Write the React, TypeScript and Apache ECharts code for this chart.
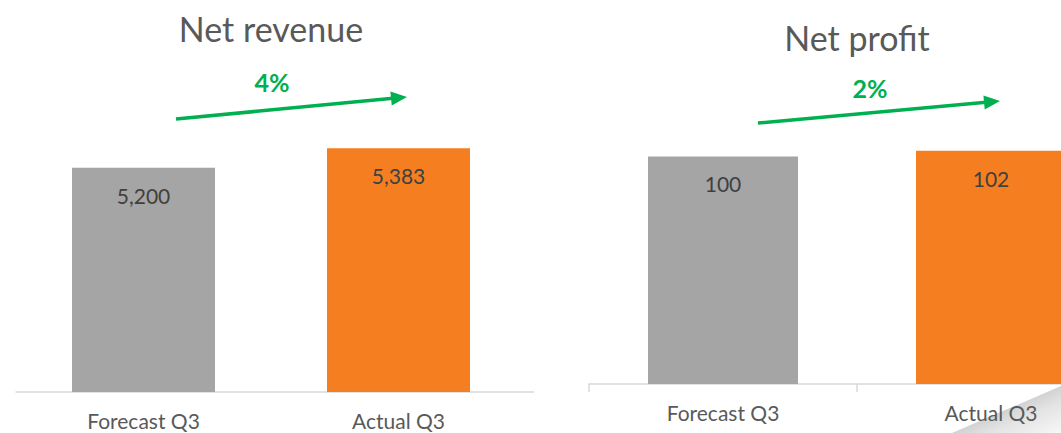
import React, { useEffect, useRef } from "react";
import * as echarts from "echarts";

const categories = ["Forecast Q3", "Actual Q3"];
const revenueValues = [5200, 5383];
const profitValues = [100, 102];
const barColors = ["#a5a5a5", "#f57f20"];
const chartTitles = ["Net revenue", "Net profit"];
const changeLabels = ["4%", "2%"];

const FONT = "Lato, 'Open Sans', sans-serif";
const GREEN = "#00b050";

function arrow(x1: number, y1: number, x2: number, y2: number) {
  const dx = x2 - x1;
  const dy = y2 - y1;
  const len = Math.sqrt(dx * dx + dy * dy);
  const ux = dx / len;
  const uy = dy / len;
  const nx = -uy;
  const ny = ux;
  const hl = 16;
  const hw = 7;
  const bx = x2 - ux * hl;
  const by = y2 - uy * hl;
  return [
    {
      type: "line",
      shape: { x1, y1, x2: bx + ux * 2, y2: by + uy * 2 },
      style: { stroke: GREEN, lineWidth: 3.5 },
    },
    {
      type: "polygon",
      shape: {
        points: [
          [x2, y2],
          [bx + nx * hw, by + ny * hw],
          [bx - nx * hw, by - ny * hw],
        ],
      },
      style: { fill: GREEN },
    },
  ];
}

export default function App() {
  const ref = useRef<HTMLDivElement>(null);

  useEffect(() => {
    if (!ref.current) return;
    const chart = echarts.init(ref.current, null, { renderer: "svg" });

    const barData = (vals: number[]) =>
      vals.map((v, i) => ({ value: v, itemStyle: { color: barColors[i] } }));

    const valueLabel = {
      show: true,
      position: "insideTop",
      distance: 17,
      fontSize: 21,
      fontFamily: FONT,
      color: "#404040",
      formatter: (p: any) => Number(p.value).toLocaleString("en-US"),
    };

    const xAxisBase = (gridIndex: number, showTick: boolean) => ({
      type: "category",
      gridIndex,
      data: categories,
      axisLine: { show: true, lineStyle: { color: "#d9d9d9", width: 1.5 } },
      axisTick: {
        show: showTick,
        length: 8,
        lineStyle: { color: "#d9d9d9", width: 1.5 },
      },
      axisLabel: {
        fontSize: 21,
        fontFamily: FONT,
        color: "#595959",
        margin: 18,
      },
    });

    const option: any = {
      animation: false,
      backgroundColor: "#ffffff",
      grid: [
        {
          left: 16,
          width: 510,
          top: 125,
          height: 267,
          containLabel: false,
          outerBoundsMode: "none",
        },
        {
          left: 589,
          width: 536,
          top: 128,
          height: 256,
          containLabel: false,
          outerBoundsMode: "none",
        },
      ],
      xAxis: [xAxisBase(0, false), xAxisBase(1, true)],
      yAxis: [
        { type: "value", gridIndex: 0, min: 3100, max: 5600, show: false },
        { type: "value", gridIndex: 1, min: 20, max: 110, show: false },
      ],
      series: [
        {
          type: "bar",
          xAxisIndex: 0,
          yAxisIndex: 0,
          barWidth: 143,
          data: barData(revenueValues),
          label: valueLabel,
        },
        {
          type: "bar",
          xAxisIndex: 1,
          yAxisIndex: 1,
          barWidth: 150,
          data: barData(profitValues),
          label: valueLabel,
        },
      ],
      graphic: [
        {
          type: "polygon",
          z: -1,
          silent: true,
          shape: {
            points: [
              [952, 433],
              [1061, 386],
              [1061, 433],
            ],
          },
          style: {
            fill: new echarts.graphic.LinearGradient(0.5, 0.5, 1, 1, [
              { offset: 0, color: "#d2d2d2" },
              { offset: 0.35, color: "#e4e4e4" },
              { offset: 1, color: "#f7f7f7" },
            ]),
          },
        },
        {
          type: "line",
          shape: { x1: 526, y1: 392, x2: 534, y2: 392 },
          style: { stroke: "#d9d9d9", lineWidth: 1.5 },
        },
        {
          type: "text",
          x: 271,
          y: 28,
          style: {
            text: chartTitles[0],
            fontSize: 34,
            fontFamily: FONT,
            fill: "#595959",
            align: "center",
            verticalAlign: "middle",
          },
        },
        {
          type: "text",
          x: 857,
          y: 37,
          style: {
            text: chartTitles[1],
            fontSize: 34,
            fontFamily: FONT,
            fill: "#595959",
            align: "center",
            verticalAlign: "middle",
          },
        },
        {
          type: "text",
          x: 272,
          y: 82,
          style: {
            text: changeLabels[0],
            fontSize: 25,
            fontWeight: "bold",
            fontFamily: FONT,
            fill: GREEN,
            align: "center",
            verticalAlign: "middle",
          },
        },
        {
          type: "text",
          x: 870,
          y: 88,
          style: {
            text: changeLabels[1],
            fontSize: 25,
            fontWeight: "bold",
            fontFamily: FONT,
            fill: GREEN,
            align: "center",
            verticalAlign: "middle",
          },
        },
        ...arrow(176, 119, 407, 97),
        ...arrow(758, 123, 1000, 101),
      ],
    };

    chart.setOption(option);
    return () => chart.dispose();
  }, []);

  return (
    <div
      ref={ref}
      style={{ width: 1061, height: 433, position: "absolute", left: 0, top: 0 }}
    />
  );
}
